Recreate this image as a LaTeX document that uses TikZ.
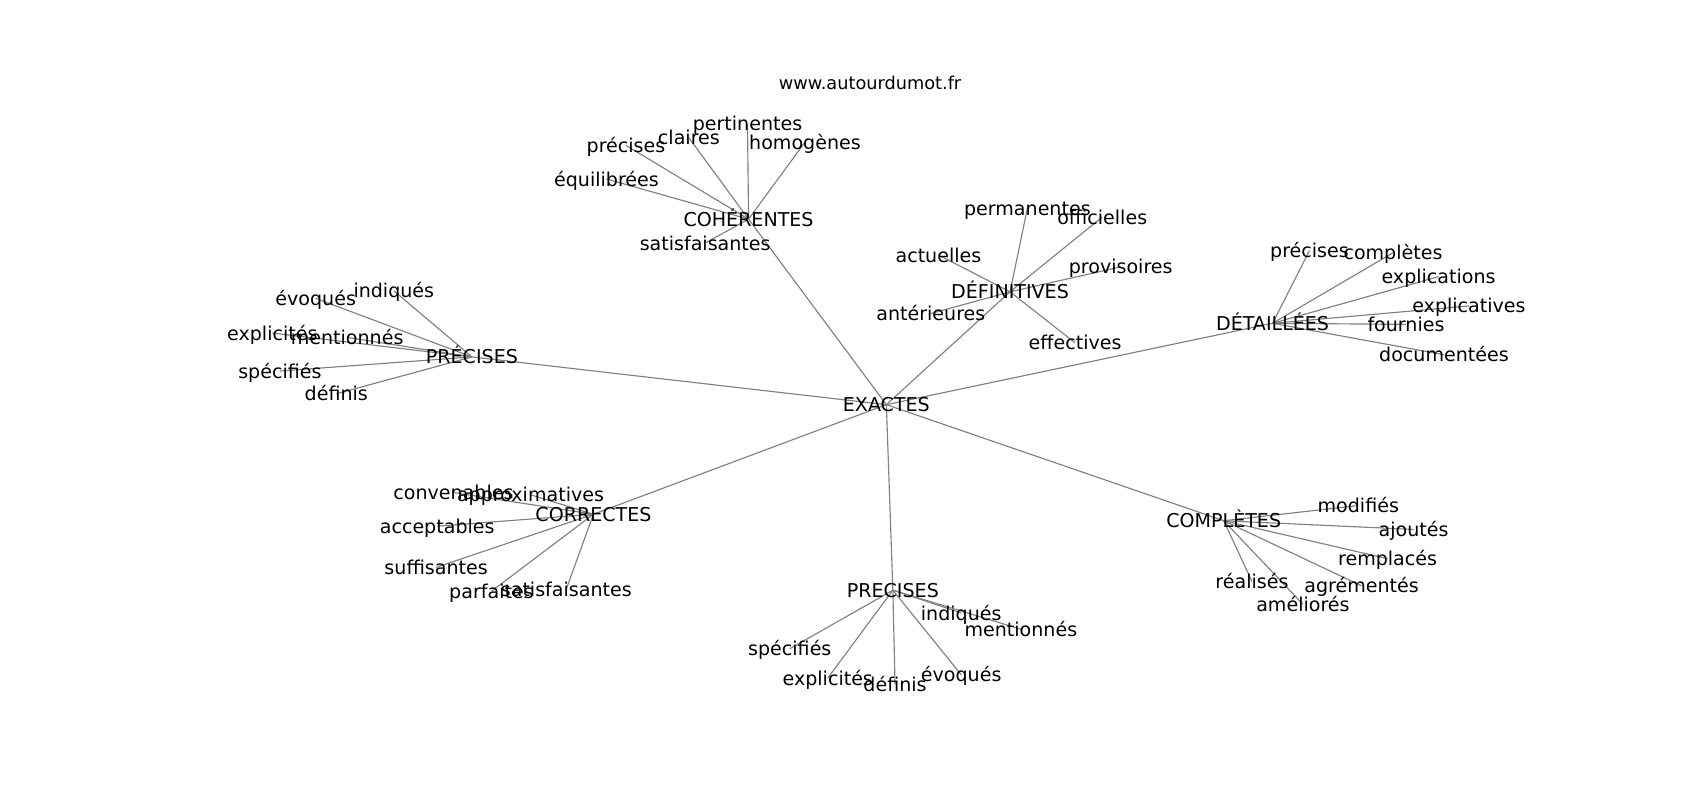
\documentclass[tikz,border=0pt]{standalone}
\usepackage{fontspec}
\setmainfont{DejaVu Sans}

\pgfdeclarelayer{edges}
\pgfsetlayers{edges,main}

\tikzset{
    word/.style={inner sep=0pt, text height=0.8em, text depth=0.06em,
        font=\fontsize{10}{12}\selectfont},
    link/.style={draw=gray, line width=0.6pt}
}

\begin{document}
\begin{tikzpicture}[x=0.02cm, y=-0.02cm]
        \useasboundingbox (0,0) rectangle (1567,737);

        \node[inner sep=0pt, font=\fontsize{9.3}{11}\selectfont] (site) at (802,76) {www.autourdumot.fr};

        % hubs
        \node[word] (ex) at (817,373) {EXACTES};
        \node[word] (coh) at (690,202) {COHÉRENTES};
        \node[word] (def) at (931,269) {DÉFINITIVES};
        \node[word] (det) at (1173,298) {DÉTAILLÉES};
        \node[word] (pre) at (435,329) {PRÉCISES};
        \node[word] (cor) at (547,474) {CORRECTES};
        \node[word] (prb) at (823,544) {PRECISES};
        \node[word] (com) at (1128,480) {COMPLÈTES};

        % COHÉRENTES
        \node[word] (coh1) at (577,134) {précises};
        \node[word] (coh2) at (635,127) {claires};
        \node[word] (coh3) at (689,114) {pertinentes};
        \node[word] (coh4) at (742,131) {homogènes};
        \node[word] (coh5) at (559,165) {équilibrées};
        \node[word] (coh6) at (650,224) {satisfaisantes};

        % DÉFINITIVES
        \node[word] (def1) at (947,192) {permanentes};
        \node[word] (def2) at (1016,200) {officielles};
        \node[word] (def3) at (865,235) {actuelles};
        \node[word] (def4) at (1033,246) {provisoires};
        \node[word] (def5) at (858,289) {antérieures};
        \node[word] (def6) at (991,316) {effectives};

        % DÉTAILLÉES
        \node[word] (det1) at (1207,231) {précises};
        \node[word] (det2) at (1284,233) {complètes};
        \node[word] (det3) at (1326,255) {explications};
        \node[word] (det4) at (1354,282) {explicatives};
        \node[word] (det5) at (1296,299) {fournies};
        \node[word] (det6) at (1331,327) {documentées};

        % PRÉCISES
        \node[word] (pre1) at (363,268) {indiqués};
        \node[word] (pre2) at (291,275) {évoqués};
        \node[word] (pre3) at (251,307) {explicités};
        \node[word] (pre4) at (320,311) {mentionnés};
        \node[word] (pre5) at (258,342) {spécifiés};
        \node[word] (pre6) at (310,363) {définis};

        % CORRECTES
        \node[word] (cor1) at (418,454) {convenables};
        \node[word] (cor2) at (489,456) {approximatives};
        \node[word] (cor3) at (403,485) {acceptables};
        \node[word] (cor4) at (402,523) {suffisantes};
        \node[word] (cor5) at (453,545) {parfaites};
        \node[word] (cor6) at (522,543) {satisfaisantes};

        % PRECISES
        \node[word] (prb1) at (886,565) {indiqués};
        \node[word] (prb2) at (941,580) {mentionnés};
        \node[word] (prb3) at (728,598) {spécifiés};
        \node[word] (prb4) at (763,625) {explicités};
        \node[word] (prb5) at (825,631) {définis};
        \node[word] (prb6) at (886,622) {évoqués};

        % COMPLÈTES
        \node[word] (com1) at (1252,466) {modifiés};
        \node[word] (com2) at (1303,488) {ajoutés};
        \node[word] (com3) at (1279,515) {remplacés};
        \node[word] (com4) at (1255,540) {agrémentés};
        \node[word] (com5) at (1154,536) {réalisés};
        \node[word] (com6) at (1201,557) {améliorés};

        \begin{pgfonlayer}{edges}
        \draw[link]
            (ex.center) edge (coh.center)
            (ex.center) edge (def.center)
            (ex.center) edge (det.center)
            (ex.center) edge (pre.center)
            (ex.center) edge (cor.center)
            (ex.center) edge (prb.center)
            (ex.center) edge (com.center)

            (coh.center) edge (coh1.center)
            (coh.center) edge (coh2.center)
            (coh.center) edge (coh3.center)
            (coh.center) edge (coh4.center)
            (coh.center) edge (coh5.center)
            (coh.center) edge (coh6.center)

            (def.center) edge (def1.center)
            (def.center) edge (def2.center)
            (def.center) edge (def3.center)
            (def.center) edge (def4.center)
            (def.center) edge (def5.center)
            (def.center) edge (def6.center)

            (det.center) edge (det1.center)
            (det.center) edge (det2.center)
            (det.center) edge (det3.center)
            (det.center) edge (det4.center)
            (det.center) edge (det5.center)
            (det.center) edge (det6.center)

            (pre.center) edge (pre1.center)
            (pre.center) edge (pre2.center)
            (pre.center) edge (pre3.center)
            (pre.center) edge (pre4.center)
            (pre.center) edge (pre5.center)
            (pre.center) edge (pre6.center)

            (cor.center) edge (cor1.center)
            (cor.center) edge (cor2.center)
            (cor.center) edge (cor3.center)
            (cor.center) edge (cor4.center)
            (cor.center) edge (cor5.center)
            (cor.center) edge (cor6.center)

            (prb.center) edge (prb1.center)
            (prb.center) edge (prb2.center)
            (prb.center) edge (prb3.center)
            (prb.center) edge (prb4.center)
            (prb.center) edge (prb5.center)
            (prb.center) edge (prb6.center)

            (com.center) edge (com1.center)
            (com.center) edge (com2.center)
            (com.center) edge (com3.center)
            (com.center) edge (com4.center)
            (com.center) edge (com5.center)
            (com.center) edge (com6.center);
        \end{pgfonlayer}
    \end{tikzpicture}
\end{document}
